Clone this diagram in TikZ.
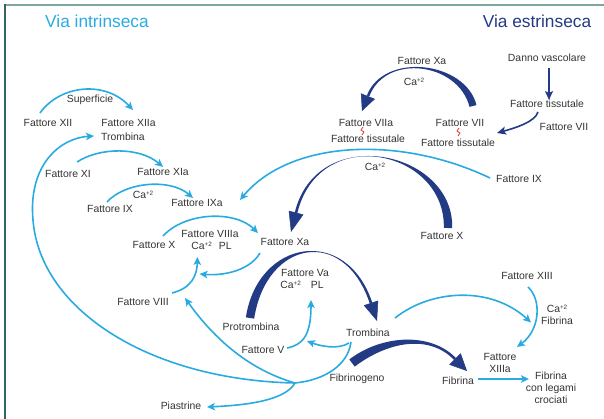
\documentclass[tikz,border=0pt]{standalone}
\usepackage{fontspec}
\setmainfont{Liberation Sans}
\usepackage{tikz}
\usetikzlibrary{arrows.meta,calc}
\usepackage{xcolor}

\definecolor{azzurro}{HTML}{29ABE2}
\definecolor{blunotte}{HTML}{233A84}
\definecolor{grigiotesto}{HTML}{333333}
\definecolor{rossolegame}{HTML}{E8302C}
\definecolor{cornicechiara}{HTML}{7DA6A0}
\definecolor{cornicescura}{HTML}{2E6A62}

% ione calcio con esponente piccolo
\newcommand{\calcio}{Ca\raisebox{3.4pt}{\fontsize{6.3}{7}\selectfont +2}}

% banda che si assottiglia: #1 inizio, #2 #3 controlli, #4 fine, #5 #6 semispessori
\newcommand{\banda}[6]{%
  \fill[blunotte] ($(#1)!#5!90:(#2)$) .. controls ($(#2)!#5!-90:(#1)$) and ($(#3)!#6!90:(#4)$) .. ($(#4)!#6!-90:(#3)$)
    -- ($(#4)!#6!90:(#3)$) .. controls ($(#3)!#6!-90:(#4)$) and ($(#2)!#5!90:(#1)$) .. ($(#1)!#5!-90:(#2)$) -- cycle;}

\begin{document}
\begin{tikzpicture}[x=1pt, y=-1pt,
  testo/.style={font=\fontsize{10.4}{12}\selectfont, text=grigiotesto, inner sep=1pt, align=center},
  titolo/.style={font=\fontsize{17.3}{20}\selectfont, inner sep=0pt},
  freccia/.style={draw=azzurro, line width=1.6pt, -{Stealth[length=8pt, width=7.5pt, inset=2pt]}},
  filo/.style={draw=azzurro, line width=1.6pt},
  frecciablu/.style={draw=blunotte, line width=1.6pt, -{Stealth[length=9pt, width=8pt, inset=2pt]}},
  punta/.style={draw=blunotte, line width=0.5pt},
  legame/.style={draw=rossolegame, line width=0.8pt}]
\useasboundingbox (0,0) rectangle (604,419);

% cornice
\draw[cornicechiara, line width=1.6pt] (4.2,5) -- (604,5);
\draw[cornicescura, line width=1.4pt] (5,4.2) -- (5,419);

\node[titolo, text=azzurro] (tIntr) at (97,21) {Via intrinseca};
\node[titolo, text=blunotte] (tEstr) at (537,21) {Via estrinseca};

%----- via intrinseca -----
\node[testo] (f12) at (48,123) {Fattore XII};
\node[testo] (f12a) at (128.5,123) {Fattore XIIa};
\node[testo] (trombA) at (123,137) {Trombina};
\node[testo] (superf) at (90,100) {Superficie};
\node[testo] (f11) at (68,174) {Fattore XI};
\node[testo] (f11a) at (163,172) {Fattore XIa};
\node[testo] (f9) at (110,209) {Fattore IX};
\node[testo] (ca1) at (143,195) {\calcio};
\node[testo] (f9a) at (197,203) {Fattore IXa};
\node[testo] (f10) at (154,245) {Fattore X};
\node[testo] (f8a) at (210,234) {Fattore VIIIa};
\node[testo] (capl1) at (211.5,246) {\calcio\hspace{7pt}PL};
\node[testo] (f10a) at (285,242) {Fattore Xa};
\node[testo] (f8) at (143,302) {Fattore VIII};
\node[testo] (f5a) at (305,273) {Fattore Va};
\node[testo] (capl2) at (302,285) {\calcio\hspace{10pt}PL};
\node[testo] (protr) at (251,327) {Protrombina};
\node[testo] (f5) at (263,350) {Fattore V};
\node[testo] (tromb) at (368,333) {Trombina};
\node[testo] (fibrgn) at (357,379) {Fibrinogeno};
\node[testo] (piast) at (181,406) {Piastrine};
\node[testo] (fibr) at (458,381) {Fibrina};
\node[testo] (f13) at (527,276) {Fattore XIII};
\node[testo, font=\fontsize{10.4}{11.5}\selectfont] (caf) at (557,314.5) {\calcio\\Fibrina};
\node[testo] (f13a) at (500,363) {Fattore\\XIIIa};
\node[testo] (fcross) at (551,388) {Fibrina\\con legami\\crociati};

%----- via estrinseca -----
\node[testo] (f10aT) at (422,61) {Fattore Xa};
\node[testo] (ca2) at (414,82) {\calcio};
\node[testo] (f7a) at (366,123) {Fattore VIIa};
\node[testo] (tf1) at (368,139) {Fattore tissutale};
\node[testo] (f7) at (460,123) {Fattore VII};
\node[testo] (tf2) at (458,143) {Fattore tissutale};
\node[testo] (danno) at (547,58) {Danno vascolare};
\node[testo] (tf3) at (547,104) {Fattore tissutale};
\node[testo] (f7r) at (564,127) {Fattore VII};
\node[testo] (ca3) at (375,167) {\calcio};
\node[testo] (f10r) at (442,236) {Fattore X};
\node[testo] (f9r) at (519,179) {Fattore IX};

% bande blu (VII -> VIIa, X -> Xa, protrombina -> trombina, fibrinogeno -> fibrina)
\coordinate (s1) at ($(f7)+(13,-17)$);
\coordinate (p1) at ($(f7a)+(-4,-12)$);
\coordinate (b1) at ($(p1)+(6,-15)$);
\banda{s1}{462,62}{385,52}{b1}{3.6pt}{1.3pt}
\draw[punta, -{Triangle[length=16pt, width=15pt]}] (b1) -- (p1);

\coordinate (s2) at ($(f10r)+(6,-8)$);
\coordinate (p2) at ($(f10a)+(6,-10)$);
\coordinate (b2) at ($(p2)+(5,-19)$);
\banda{s2}{450,150}{318,122}{b2}{4.2pt}{1.3pt}
\draw[punta, -{Triangle[length=20pt, width=15pt]}] (b2) -- (p2);

\coordinate (s3) at ($(protr)+(-1,-9)$);
\coordinate (p3) at ($(tromb)+(9,-12)$);
\coordinate (b3) at ($(p3)+(-6,-18)$);
\banda{s3}{262,240}{345,225}{b3}{4.2pt}{1.3pt}
\draw[punta, -{Triangle[length=19pt, width=15pt]}] (b3) -- (p3);

\coordinate (s4) at ($(fibrgn)+(-5,-16)$);
\coordinate (p4) at ($(fibr)+(9,-10)$);
\coordinate (b4) at ($(p4)+(-12,-12)$);
\banda{s4}{385,338}{430,333}{b4}{4.5pt}{1.3pt}
\draw[punta, -{Triangle[length=17pt, width=16pt]}] (b4) -- (p4);

% frecce blu sottili
\draw[frecciablu] ($(danno)+(2,10)$) -- ($(tf3)+(2,-4)$);
\draw[frecciablu] ($(tf3)+(-9,8)$) .. controls (535,122) and (515,128) .. ($(tf2)+(39,-10)$);

% legami fattore-tissutale
\draw[legame] ($(f7a)+(-3,4)$) -- ++(-2,3) -- ++(3,2) -- ++(-2,3);
\draw[legame] ($(f7)+(-1,5)$) -- ++(-2,3) -- ++(3,2) -- ++(-2,3);

% frecce azzurre
\draw[freccia] ($(f12)+(-8,-10)$) .. controls (60,85) and (105,80) .. ($(f12a)+(4.5,-13)$);
\draw[freccia] ($(f11)+(9,-12)$) .. controls (100,147) and (140,147) .. ($(f11a)+(0,-5)$);
\draw[freccia] ($(f9)+(-3,-7)$) .. controls (125,182) and (170,178) .. ($(f9a)+(-4,-5)$);
\draw[freccia] ($(f9r)+(-29,-1)$) .. controls (400,135) and (290,140) .. ($(f9a)+(43,-3)$);
\draw[freccia] ($(f10)+(9,-9)$) .. controls (185,212) and (235,210) .. ($(f10a)+(-27,-9)$);
\draw[freccia] ($(f10a)+(-25,11)$) .. controls (250,270) and (225,276) .. ($(capl1)+(-12,28)$);
\draw[freccia] ($(f8)+(29,-9)$) .. controls (192,288) and (197,275) .. ($(capl1)+(-14,11)$);

% trombina: rami verso sinistra
\coordinate (bivio) at (295,383);
\draw[filo] ($(tromb)+(-17,9)$) .. controls (348,365) and (325,380) .. (bivio);
\draw[freccia] (bivio) .. controls (150,380) and (40,310) .. (33,220)
  .. controls (28,165) and (60,138) .. ($(trombA)+(-29,-1)$);
\draw[freccia] (bivio) .. controls (250,370) and (215,340) .. ($(f8)+(42,-4)$);
\draw[freccia] (bivio) .. controls (285,400) and (250,405) .. ($(piast)+(26,1)$);
\draw[freccia] ($(tromb)+(-19,10)$) .. controls (338,350) and (320,346) .. ($(f5)+(44,-9)$);
\draw[freccia] ($(f5)+(24,-2)$) .. controls (303,345) and (311,335) .. ($(capl2)+(9,15)$);

% fibrina
\draw[freccia] ($(tromb)+(27,-15)$) .. controls (430,290) and (490,285) .. ($(caf)+(-26,8)$);
\draw[freccia] ($(f13)+(1,11)$) .. controls (542,300) and (540,330) .. ($(f13a)+(17,-16)$);
\draw[freccia] ($(fibr)+(20,-2)$) -- ($(fcross)+(-22,-9)$);
\end{tikzpicture}
\end{document}
